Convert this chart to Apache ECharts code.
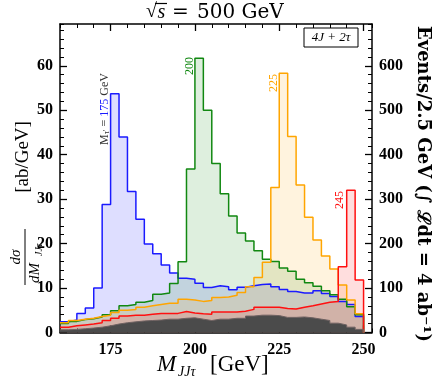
<!DOCTYPE html>
<html>
<head>
<meta charset="utf-8">
<script src="https://cdn.jsdelivr.net/npm/echarts@6/dist/echarts.min.js"></script>
<style>
html, body { margin: 0; padding: 0; background: #fff; }
#chart { width: 436px; height: 383px; }
</style>
</head>
<body>
<div id="chart"></div>
<script>
// bin lower edges, 2.5 GeV wide, last bin ends at 250
const binLow = [160, 162.5, 165, 167.5, 170, 172.5, 175, 177.5, 180, 182.5, 185, 187.5,
  190, 192.5, 195, 197.5, 200, 202.5, 205, 207.5, 210, 212.5, 215, 217.5,
  220, 222.5, 225, 227.5, 230, 232.5, 235, 237.5, 240, 242.5, 245, 247.5];
const histEnd = 250;

// dsigma/dM [ab/GeV]
const m175 = [2.4, 2.8, 4.3, 5.5, 10.0, 28.8, 53.7, 44.0, 31.7, 25.5, 19.9, 17.7,
  15.2, 13.4, 12.2, 12.0, 11.1, 10.1, 10.5, 10.3, 9.6, 10.2, 10.5, 10.8,
  10.9, 10.3, 9.7, 9.2, 8.9, 8.9, 9.4, 8.8, 8.1, 7.0, 6.3, 3.6];
const m200 = [2.0, 2.5, 2.9, 3.1, 3.5, 4.0, 4.9, 6.0, 6.3, 6.8, 7.2, 8.6,
  8.9, 11.0, 15.9, 36.8, 61.7, 50.0, 38.0, 31.2, 26.2, 22.4, 20.6, 18.4,
  16.5, 16.0, 14.5, 13.8, 12.0, 11.2, 10.4, 9.4, 8.5, 7.5, 5.8, 4.0];
const m225 = [2.2, 2.7, 3.0, 3.2, 3.6, 3.9, 4.5, 5.0, 5.2, 5.7, 6.0, 6.3,
  6.6, 6.6, 7.5, 7.3, 7.0, 7.2, 7.9, 8.0, 8.4, 9.0, 10.3, 12.4,
  15.8, 32.6, 58.3, 44.1, 33.2, 25.9, 20.8, 17.2, 14.3, 10.7, 7.3, 4.2];
const m245 = [1.2, 1.5, 1.7, 1.9, 2.2, 2.7, 3.2, 3.7, 3.9, 3.9, 4.1, 4.3,
  4.3, 4.3, 4.7, 4.4, 4.2, 4.1, 4.6, 4.6, 4.6, 4.8, 5.2, 5.7,
  5.7, 5.7, 5.4, 5.3, 5.7, 6.0, 6.4, 6.8, 7.0, 14.8, 32.0, 11.8];
const bkg = [0.6, 0.7, 0.85, 1.0, 1.2, 1.5, 1.9, 2.2, 2.4, 2.6, 2.7, 2.8,
  3.0, 3.0, 3.2, 3.3, 3.0, 2.7, 3.0, 3.0, 3.2, 3.2, 3.7, 3.9,
  3.9, 3.8, 3.4, 3.4, 3.5, 3.3, 3.0, 2.7, 2.1, 1.7, 1.2, 0.7];

const xMajor = [175, 200, 225, 250];

const serif = "'Liberation Serif', 'DejaVu Serif', serif";
const wide = "'DejaVu Serif', serif";
const chart = echarts.init(document.getElementById('chart'));

function hist(vals) {
  const pts = binLow.map((x, i) => [x, vals[i]]);
  pts.push([histEnd, vals[vals.length - 1]], [histEnd, 0]);
  return pts;
}

function histSeries(name, vals, line, fill, lw) {
  return {
    type: 'line', name: name, step: 'end', symbol: 'none',
    xAxisIndex: 0, yAxisIndex: 0,
    data: hist(vals),
    lineStyle: { color: line, width: lw },
    itemStyle: { color: line },
    areaStyle: { color: fill, opacity: 1 }
  };
}

const tickLbl = { color: '#000', fontFamily: serif, fontWeight: 'bold', fontSize: 16 };
const frame = { show: true, onZero: false, lineStyle: { color: '#000', width: 1.5 } };

chart.setOption({
  animation: false,
  grid: { left: 60, right: 64, top: 24, bottom: 50.5, outerBoundsMode: 'none' },
  xAxis: [
    { type: 'value', position: 'bottom', min: 160, max: 252.5, axisLine: frame,
      axisTick: { inside: true, length: 7, customValues: xMajor, lineStyle: { color: '#000', width: 1.3 } },
      axisLabel: Object.assign({ customValues: xMajor, margin: 9 }, tickLbl),
      splitLine: { show: false } },
    { type: 'value', position: 'bottom', min: 160, max: 252.5, interval: 5,
      axisLine: { show: false, onZero: false },
      axisTick: { inside: true, length: 4, lineStyle: { color: '#000' } },
      axisLabel: { show: false }, splitLine: { show: false } },
    { type: 'value', position: 'top', min: 160, max: 252.5, axisLine: frame,
      axisTick: { inside: true, length: 7, customValues: xMajor, lineStyle: { color: '#000', width: 1.3 } },
      axisLabel: { show: false }, splitLine: { show: false } },
    { type: 'value', position: 'top', min: 160, max: 252.5, interval: 5,
      axisLine: { show: false, onZero: false },
      axisTick: { inside: true, length: 4, lineStyle: { color: '#000' } },
      axisLabel: { show: false }, splitLine: { show: false } }
  ],
  yAxis: [
    { type: 'value', position: 'left', min: 0, max: 69.4, interval: 10, axisLine: frame,
      axisTick: { inside: true, length: 7, lineStyle: { color: '#000', width: 1.3 } },
      axisLabel: Object.assign({ showMaxLabel: false, margin: 7,
        formatter: v => (v % 10 === 0 ? v : '') }, tickLbl),
      splitLine: { show: false } },
    { type: 'value', position: 'left', min: 0, max: 69.4, interval: 2,
      axisLine: { show: false, onZero: false },
      axisTick: { inside: true, length: 4, lineStyle: { color: '#000' } },
      axisLabel: { show: false }, splitLine: { show: false } },
    { type: 'value', position: 'right', min: 0, max: 694, interval: 100, axisLine: frame,
      axisTick: { inside: true, length: 7, lineStyle: { color: '#000', width: 1.3 } },
      axisLabel: Object.assign({ showMaxLabel: false, margin: 7,
        formatter: v => (v % 100 === 0 ? v : '') }, tickLbl),
      splitLine: { show: false } },
    { type: 'value', position: 'right', min: 0, max: 694, interval: 20,
      axisLine: { show: false, onZero: false },
      axisTick: { inside: true, length: 4, lineStyle: { color: '#000' } },
      axisLabel: { show: false }, splitLine: { show: false } }
  ],
  series: [
    histSeries('175', m175, '#1a1aff', 'rgba(0,0,255,0.13)', 1.5),
    histSeries('200', m200, '#118811', 'rgba(0,128,0,0.13)', 1.5),
    histSeries('225', m225, '#ffa500', 'rgba(255,165,0,0.13)', 1.5),
    histSeries('245', m245, '#ff1010', 'rgba(255,0,0,0.13)', 1.5),
    histSeries('bkg', bkg, '#6f6262', '#4b4b4b', 1)
  ],
  graphic: [
    // title: sqrt(s) = 500 GeV
    { type: 'group', x: 0, y: 0, children: [
      { type: 'text', x: 157, y: 12, style: { text: '√', font: '20px ' + serif, fill: '#000',
        align: 'right', verticalAlign: 'middle' } },
      { type: 'line', shape: { x1: 155, y1: 3.5, x2: 167, y2: 3.5 }, style: { stroke: '#000', lineWidth: 1.2 } },
      { type: 'text', x: 157.5, y: 13, style: { text: 's', font: 'italic 20px ' + serif, fill: '#000',
        align: 'left', verticalAlign: 'middle' } },
      { type: 'text', x: 172, y: 13, style: { text: '=', font: '20px ' + wide, fill: '#000',
        align: 'left', verticalAlign: 'middle' } },
      { type: 'text', x: 197, y: 13, style: { text: '500 GeV', font: '20px ' + wide, fill: '#000',
        align: 'left', verticalAlign: 'middle' } }
    ] },
    { type: 'group', x: 331, y: 37.5, children: [
      { type: 'rect', shape: { x: -27, y: -9.5, width: 54, height: 19 },
        style: { fill: '#fff', stroke: '#000', lineWidth: 1 } },
      { type: 'text', style: { text: '4J + 2τ', font: 'italic 13px ' + serif, fill: '#000',
        align: 'center', verticalAlign: 'middle' } }
    ] },
    { type: 'text', x: 105, y: 109, rotation: Math.PI / 2,
      style: { text: '{k|M}{s|τ\'}{k| = }{b|175}{k| GeV}', align: 'center', verticalAlign: 'middle',
        rich: {
          k: { fontFamily: serif, fontSize: 12, fill: '#333' },
          s: { fontFamily: serif, fontSize: 8, fill: '#333', verticalAlign: 'bottom' },
          b: { fontFamily: serif, fontSize: 12, fill: '#1a1aff' }
        } } },
    { type: 'text', x: 190, y: 66, rotation: Math.PI / 2,
      style: { text: '200', font: '12px ' + serif, fill: '#118811', align: 'center', verticalAlign: 'middle' } },
    { type: 'text', x: 274, y: 83, rotation: Math.PI / 2,
      style: { text: '225', font: '12px ' + serif, fill: '#ffa500', align: 'center', verticalAlign: 'middle' } },
    { type: 'text', x: 340, y: 200, rotation: Math.PI / 2,
      style: { text: '245', font: '12px ' + serif, fill: '#ff1010', align: 'center', verticalAlign: 'middle' } },
    // left axis title: fraction
    { type: 'group', x: 25, y: 257, rotation: Math.PI / 2, children: [
      { type: 'text', x: 0, y: -9, style: { text: 'dσ', font: 'italic 15px ' + serif, fill: '#000',
        align: 'center', verticalAlign: 'middle' } },
      { type: 'line', shape: { x1: -28, y1: 0, x2: 28, y2: 0 }, style: { stroke: '#000', lineWidth: 1 } },
      { type: 'text', x: -26, y: 10, style: { text: 'dM', font: 'italic 15px ' + serif, fill: '#000',
        align: 'left', verticalAlign: 'middle' } },
      { type: 'text', x: 1, y: 14, style: { text: 'JJτ', font: 'italic 10px ' + serif, fill: '#000',
        align: 'left', verticalAlign: 'middle' } }
    ] },
    { type: 'text', x: 23, y: 157, rotation: Math.PI / 2,
      style: { text: '[ab/GeV]', font: '19px ' + serif, fill: '#000', align: 'center', verticalAlign: 'middle' } },
    // right axis title
    { type: 'text', x: 423, y: 184, rotation: -Math.PI / 2,
      style: { text: 'Events/2.5 GeV (∫ ℒdt = 4 ab⁻¹)', font: 'bold 18px ' + wide, fill: '#000',
        align: 'center', verticalAlign: 'middle' } },
    // x axis title
    { type: 'group', x: 0, y: 0, children: [
      { type: 'text', x: 157, y: 365, style: { text: 'M', font: 'italic 23px ' + serif, fill: '#000',
        align: 'left', verticalAlign: 'middle' } },
      { type: 'text', x: 178, y: 372, style: { text: 'JJτ', font: 'italic 14px ' + serif, fill: '#000',
        align: 'left', verticalAlign: 'middle' } },
      { type: 'text', x: 210, y: 365, style: { text: '[GeV]', font: '23px ' + serif, fill: '#000',
        align: 'left', verticalAlign: 'middle' } }
    ] }
  ]
});
</script>
</body>
</html>
